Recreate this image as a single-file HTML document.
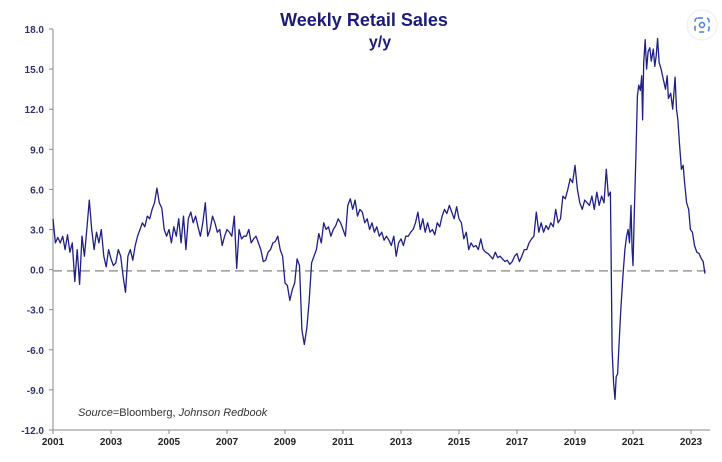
<!DOCTYPE html>
<html><head><meta charset="utf-8"><style>
body{margin:0;background:#fff;width:722px;height:462px;overflow:hidden}
svg{display:block;font-family:"Liberation Sans",sans-serif}
</style></head><body>
<svg id="chart" width="722" height="462">
<text x="364" y="26" text-anchor="middle" font-size="18" font-weight="bold" fill="#1c1c78">Weekly Retail Sales</text>
<text x="380" y="47" text-anchor="middle" font-size="16" font-weight="bold" fill="#1c1c78">y/y</text>
<g id="axes"></g>
<line id="zero" stroke="#999" stroke-width="1.5" stroke-dasharray="9,5"></line>
<path id="series" fill="none" stroke="#1f1f85" stroke-width="1.3" stroke-linejoin="round"></path>
<text x="78" y="416" font-size="11" fill="#333"><tspan font-style="italic">Source</tspan>=Bloomberg, <tspan font-style="italic">Johnson Redbook</tspan></text>
<g>
<circle cx="702" cy="25" r="15" fill="#fff" stroke="#eee"/>
<rect x="695" y="18" width="14" height="14" rx="3" fill="none" stroke="#4a7fd6" stroke-width="1.5" stroke-dasharray="5,4"/>
<circle cx="702" cy="25" r="2.5" fill="none" stroke="#4a7fd6" stroke-width="1.5"/>
</g>
</svg>
<script>
const yTicks=[18,15,12,9,6,3,0,-3,-6,-9,-12];
const xTicks=[2001,2003,2005,2007,2009,2011,2013,2015,2017,2019,2021,2023];
const monthlyStart=2001;
const monthlyValues=[
3.8,2.0,2.4,2.0,2.5,1.5,2.6,1.3,2.0,-0.9,1.5,-1.1,
2.5,1.0,3.0,5.2,3.0,1.5,2.8,2.0,3.0,1.0,0.2,1.5,
0.8,0.3,0.5,1.5,1.0,-0.5,-1.7,1.0,1.5,0.7,1.8,2.5,
3.0,3.5,3.2,4.0,3.8,4.5,5.0,6.1,5.0,4.6,3.0,2.5,
3.0,2.0,3.2,2.5,3.8,2.0,4.0,1.5,3.8,4.3,3.5,4.0,
3.2,2.5,3.5,5.0,2.5,3.0,4.0,3.5,2.8,3.0,1.8,2.5,
3.0,2.8,2.5,4.0,0.1,3.0,2.3,2.5,2.5,3.0,2.0,2.3,
2.5,2.0,1.5,0.6,0.7,1.3,1.5,2.0,2.1,2.5,1.5,1.0,
-1.0,-1.2,-2.3,-1.5,-1.0,0.8,0.3,-4.5,-5.6,-4.4,-2.3,0.5,
1.0,1.5,2.7,2.0,3.5,3.0,3.2,2.5,3.0,3.3,3.8,3.5,
3.0,2.5,4.8,5.3,4.5,5.2,4.0,4.5,4.3,3.5,3.8,3.0,
3.5,2.8,3.2,2.5,2.8,2.2,2.5,2.2,1.8,2.5,1.0,2.0,
2.3,1.8,2.5,2.5,2.8,3.0,3.5,4.3,3.0,3.8,2.8,3.5,
2.8,3.0,2.6,3.5,3.2,4.0,4.5,4.2,4.8,4.3,3.8,4.7,
3.8,3.5,2.3,2.8,1.5,2.0,1.7,1.8,1.5,2.3,1.5,1.3,
1.2,1.0,0.8,1.3,0.9,1.0,0.8,0.6,0.7,0.4,0.6,1.0,
1.2,0.6,1.0,1.5,1.5,2.0,2.3,2.5,4.3,2.8,3.5,2.8,
3.3,3.0,3.5,3.2,4.5,3.5,3.8,5.5,5.3,6.0,6.8,6.5,
7.8,6.0,5.0,4.5,5.2,5.0,4.8,5.5,4.5,5.8,4.8,5.5];
const recentDates=[2020.0,2020.08,2020.15,2020.22,2020.24,2020.28,2020.33,2020.38,2020.42,2020.47,2020.52,2020.58,2020.65,2020.72,2020.78,2020.83,2020.88,2020.93,2020.97,2021.0,2021.05,2021.1,2021.15,2021.2,2021.25,2021.3,2021.33,2021.37,2021.42,2021.47,2021.52,2021.58,2021.63,2021.7,2021.75,2021.8,2021.85,2021.9,2021.97,2022.05,2022.12,2022.18,2022.22,2022.3,2022.37,2022.45,2022.5,2022.55,2022.6,2022.67,2022.73,2022.78,2022.85,2022.92,2022.98,2023.05,2023.12,2023.2,2023.28,2023.36,2023.42,2023.48];
const recentValues=[5.0,7.5,5.5,5.8,2.0,-6,-8.5,-9.7,-8.0,-7.8,-5.5,-3.0,-0.5,1.5,2.5,3.0,2.0,4.8,1.5,0.3,4.5,8.5,13.0,13.8,13.4,14.5,11.2,15.5,17.2,15.0,16.3,16.6,15.6,16.5,15.2,16.0,17.3,15.5,15.0,14.2,13.5,14.5,12.8,13.2,12.0,14.4,12.0,11.2,9.5,7.5,7.8,6.5,5.0,4.5,3.0,2.8,1.8,1.3,1.2,0.8,0.6,-0.3];
const refLevel=-0.1;

const X0=53,X1=710,Y0=29,Y1=430;
const xs=t=>X0+(t-2001)*29;
const ys=v=>Y0+(18-v)*(Y1-Y0)/30;
const NS="http://www.w3.org/2000/svg";
const axes=document.getElementById('axes');
function mk(tag,attrs,parent){const e=document.createElementNS(NS,tag);for(const k in attrs)e.setAttribute(k,attrs[k]);parent.appendChild(e);return e;}
const ya=mk('line',{x1:X0,y1:Y0,x2:X0,y2:Y1,stroke:'#888'},axes);


const xa=mk('line',{x1:X0,y1:Y1,x2:X1,y2:Y1,stroke:'#888'},axes);


yTicks.forEach(v=>{
 mk('line',{x1:X0-4,x2:X0,y1:ys(v),y2:ys(v),stroke:'#888'},axes);
 const t=mk('text',{x:X0-9,y:ys(v)+4,'text-anchor':'end','font-size':10,'font-weight':'bold',fill:'#33336b'},axes);
 t.textContent=v.toFixed(1);
 
 
});
xTicks.forEach(y=>{
 mk('line',{x1:xs(y),x2:xs(y),y1:Y1,y2:Y1+4,stroke:'#888'},axes);
 const t=mk('text',{x:xs(y),y:Y1+15,'text-anchor':'middle','font-size':10,'font-weight':'bold',fill:'#222'},axes);
 t.textContent=y;
 
 
});
const z=document.getElementById('zero');
z.setAttribute('x1',X0);z.setAttribute('x2',X1);z.setAttribute('y1',ys(refLevel));z.setAttribute('y2',ys(refLevel));
const pts=[];
monthlyValues.forEach((v,i)=>pts.push([xs(monthlyStart+i/12),ys(v)]));
recentDates.forEach((d,i)=>pts.push([xs(d),ys(recentValues[i])]));
document.getElementById('series').setAttribute('d','M'+pts.map(p=>p[0].toFixed(1)+','+p[1].toFixed(1)).join('L'));
</script>
</body></html>
